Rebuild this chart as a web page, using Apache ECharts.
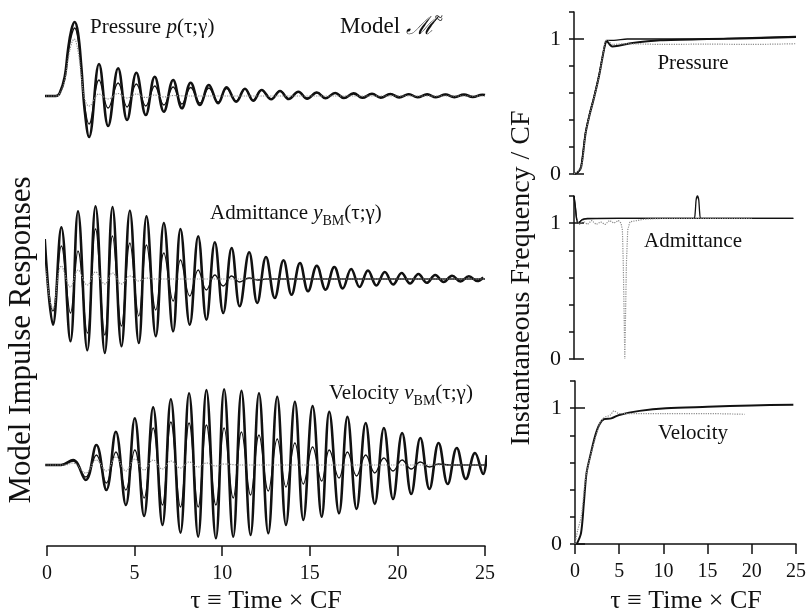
<!DOCTYPE html>
<html><head><meta charset="utf-8">
<script src="https://cdn.jsdelivr.net/npm/echarts@6/dist/echarts.min.js"></script>
<style>html,body{margin:0;padding:0;background:#fff}#c{width:809px;height:615px}</style>
</head><body><div id="c"></div>
<script>
// ---- tick labels ----
const tauTicks = [0, 5, 10, 15, 20, 25];
const ifTickLabels = [0, 1];

// ---- left panel: impulse responses, [tau, amplitude] (extrema) ----
const pressureThick = [[-0.2,0],[0.5,0],[0.72,2.7],[1.01,19],[1.2,46],[1.39,66],[1.58,74],[1.77,63],[1.96,29],[2.15,-14],[2.4,-41],
 [2.97,32],[3.49,-30],[4.06,27.7],[4.57,-24],[5.1,23.3],[5.64,-19],[6.15,19.3],[6.67,-15.7],[7.2,16],[7.7,-12.3],[8.2,13.3],[8.73,-9],
 [9.24,11],[9.77,-7.3],[10.25,8.7],[10.8,-5.7],[11.3,7.3],[11.77,-4.7],[12.25,6],[12.8,-3.3],[13.3,5],[13.8,-3],[14.35,4.2],[14.85,-2.6],
 [15.4,3.5],[15.9,-2.2],[16.45,3],[16.95,-2],[17.5,2.6],[18,-1.8],[18.55,2.2],[19.05,-1.6],[19.6,2],[20.1,-1.4],[20.65,1.8],[21.15,-1.3],
 [21.7,1.6],[22.2,-1.2],[22.75,1.5],[23.25,-1.1],[23.8,1.4],[24.3,-1],[24.85,1.3],[25,1]];
const pressureMid = [[-0.2,0],[0.5,0],[0.72,2.5],[1.01,17],[1.2,42],[1.39,60],[1.58,68],[1.77,57],[1.96,26],[2.15,-10],[2.4,-28],
 [2.97,16],[3.49,-12],[4.06,13],[4.57,-11],[5.1,12],[5.64,-10],[6.15,10],[6.67,-9],[7.2,9],[7.7,-8],[8.2,8.5],[8.73,-7],[9.24,8],
 [9.77,-6],[10.25,7.5],[10.8,-5],[11.3,7],[11.77,-4.5],[12.25,6],[12.8,-3.3],[13.3,5],[13.8,-3],[14.35,4.2],[14.85,-2.6],[15.4,3.5],
 [15.9,-2.2],[16.45,3],[16.95,-2],[17.5,2.6],[18,-1.8],[18.55,2.2],[19.05,-1.6],[19.6,2],[20.1,-1.4],[20.65,1.8],[21.15,-1.3],[21.7,1.6],
 [22.2,-1.2],[22.75,1.5],[23.25,-1.1],[23.8,1.4],[24.3,-1],[24.85,1.3],[25,1]];
const pressureGray = [[-0.2,0],[0.5,0],[0.72,2],[1.01,15],[1.2,36],[1.39,52],[1.55,57],[1.77,45],[1.96,20],[2.15,-3],[2.4,-10],
 [2.97,2],[3.49,-3],[4.06,2.5],[4.57,-2],[5.1,2],[5.64,-1.5],[6.15,1],[6.67,-1],[7.2,0.5],[8,0],[25,0]];

const admitThick = [[-0.13,40],[0.34,-45.7],[0.82,51.7],[1.34,-62.3],[1.77,67.7],[2.3,-71.3],[2.77,72.7],[3.3,-74],[3.74,72],
 [4.25,-67.3],[4.73,68.3],[5.24,-64],[5.68,62.7],[6.21,-57.3],[6.67,56],[7.2,-52.3],[7.62,50],[8.15,-45.7],[8.63,42.7],[9.1,-40.7],
 [9.58,36.7],[10.06,-34],[10.54,31],[11.0,-27.3],[11.54,26.7],[12.0,-24],[12.5,22],[13.0,-19],[13.5,18.7],[13.96,-15.7],[14.44,16],
 [14.9,-12.3],[15.4,13.3],[15.9,-10.7],[16.4,12],[16.88,-9.5],[17.36,10],[17.84,-8],[18.32,8.5],[18.8,-6.5],[19.28,7],[19.76,-5.5],
 [20.24,6],[20.72,-4.5],[21.2,5],[21.68,-3.8],[22.16,4],[22.64,-3],[23.12,3.3],[23.6,-2.5],[24.08,2.7],[24.56,-2],[24.9,1.5]];
const admitMid = [[-0.13,25],[0.34,-32],[0.82,33],[1.34,-34],[1.77,28],[2.3,-54],[2.77,50],[3.3,-56],[3.74,43],[4.25,-47],
 [4.73,36],[5.24,-37],[5.68,34],[6.21,-31],[6.67,26],[7.2,-22],[7.62,19],[8.15,-17],[8.63,9],[9.1,-11],[9.58,4],[10.06,-7],
 [10.54,3],[11.0,-3],[11.54,1],[12,-1],[12.5,0],[25,0]];
const admitGray = [[-0.13,20],[0.34,-30],[0.82,13],[1.34,-8],[1.77,9],[2.3,-6],[2.77,7],[3.3,-5],[3.74,6],[4.25,-5],[4.73,3],
 [5.24,-2],[5.68,1],[6.2,0],[25,0]];

const velThick = [[-0.1,0],[0.8,0],[1.49,5],[2.21,-15],[2.82,20],[3.39,-25],[3.93,33.3],[4.5,-40],[5.01,46.7],[5.54,-51],
 [6.06,57.7],[6.59,-60],[7.07,65.7],[7.62,-67.7],[8.11,71.7],[8.63,-71.7],[9.1,75],[9.64,-73.3],[10.11,75.7],[10.63,-71.7],
 [11.1,74.3],[11.62,-70],[12.1,71.7],[12.63,-68.3],[13.14,68.3],[13.64,-60],[14.15,63.3],[14.63,-55],[15.16,59],[15.68,-51.7],
 [16.11,53.3],[16.67,-48.3],[17.15,48.3],[17.67,-44],[18.19,42],[18.71,-39],[19.23,37],[19.75,-34],[20.27,32],[20.79,-29],
 [21.31,27],[21.83,-24],[22.35,22],[22.87,-19],[23.39,17],[23.91,-14],[24.43,12],[24.9,-9],[25.1,10]];
const velMid = [[-0.1,0],[0.8,0],[1.49,4],[2.21,-12],[2.82,10],[3.39,-18],[3.93,13],[4.5,-25],[5.01,15],[5.54,-33],[6.06,37],
 [6.59,-40],[7.07,43],[7.62,-42],[8.11,42],[8.63,-42],[9.1,40],[9.64,-40],[10.11,37],[10.63,-33],[11.1,33],[11.62,-30],[12.1,30],
 [12.63,-26],[13.14,26],[13.64,-22],[14.15,22],[14.63,-19],[15.16,18],[15.68,-16],[16.11,15],[16.67,-13],[17.15,13],[17.67,-11],
 [18.19,10],[18.71,-8],[19.23,7],[19.75,-6],[20.27,5],[20.79,-4],[21.31,3],[21.83,-2],[22.35,1],[23,0],[25,0]];
const velGray = [[-0.1,0],[1,0],[1.49,2],[2.21,-8],[2.82,5],[3.39,-6],[3.93,8],[4.5,-6],[5.01,6],[5.54,-5],[6.06,5],[6.59,-4],
 [7.07,4],[7.62,-3],[8.11,3],[8.63,-2],[9.1,2],[9.64,-1],[10.11,1],[11,0],[25,0]];

// ---- right panels: instantaneous frequency / CF ----
const presIFThick = [[0,0],[0.4,0.01],[0.8,0.05],[1.3,0.3],[1.8,0.45],[2.2,0.55],[2.8,0.72],[3.2,0.86],[3.5,0.96],[3.7,0.985],
 [4.0,0.96],[4.3,0.945],[5,0.95],[6.6,0.97],[9.7,0.99],[15,1.0],[20,1.005],[25,1.015]];
const presIFMid = [[0,0],[0.4,0.01],[0.8,0.06],[1.3,0.31],[1.8,0.46],[2.2,0.56],[2.8,0.73],[3.2,0.87],[3.5,0.96],[3.7,0.99],
 [4.5,0.99],[6,1.0],[10,1.0],[15,1.0],[20,1.01],[25,1.02]];
const presIFGray = [[0,0],[0.8,0.05],[1.3,0.3],[1.8,0.45],[2.2,0.55],[2.8,0.72],[3.3,0.9],[3.6,0.99],[3.9,0.985],[4.3,0.96],
 [6,0.965],[10,0.96],[15,0.962],[20,0.96],[25,0.965]];

const admIFThick = [[0,1.2],[0.15,1.12],[0.3,1.03],[0.5,1.0],[0.8,1.02],[1.5,1.035],[5,1.035],[10,1.035],[15,1.035],[20,1.035],[24.7,1.035]];
const admIFMid = [[0,1.2],[0.15,1.12],[0.3,1.03],[0.5,1.0],[1,1.03],[5,1.035],[13.5,1.035],[13.65,1.08],[13.75,1.17],[13.9,1.2],
 [14.05,1.17],[14.15,1.08],[14.3,1.035],[24.7,1.035]];
const admIFGray = [[0.3,1.02],[0.6,0.99],[1.0,1.02],[1.5,0.99],[2.0,1.02],[2.5,0.99],[3.0,1.01],[3.5,0.99],[4.0,1.02],[4.5,1.0],
 [5.0,1.02],[5.3,1.0],[5.45,0.95],[5.55,0.7],[5.65,0.3],[5.72,0.0],[5.8,0.3],[5.9,0.7],[6.05,0.95],[6.3,1.01],[8,1.03],[10,1.035],[20,1.035]];

const velIFThick = [[0.2,0],[0.68,0.08],[1.0,0.3],[1.3,0.52],[1.8,0.67],[2.3,0.8],[2.76,0.88],[3.3,0.92],[4.1,0.925],[5,0.95],
 [7.3,0.98],[10.3,1.0],[15,1.01],[20,1.02],[24.7,1.025]];
const velIFGray = [[0,0],[0.3,0.1],[0.7,0.2],[1.3,0.52],[2.76,0.88],[3.3,0.93],[4.0,0.95],[4.4,0.98],[5,0.96],[10,0.96],[15,0.96],[19.2,0.955]];

// ---- chart ----
const F = 'Liberation Serif';
const BLACK = '#111';
const GRAY = '#8c8c8c';
const chart = echarts.init(document.getElementById('c'), null, {renderer: 'canvas'});

const grids = [
  {left: 47, width: 438, top: 16, height: 160},   // 0 pressure (left)
  {left: 47, width: 438, top: 199, height: 160},  // 1 admittance (left)
  {left: 47, width: 438, top: 385, height: 161},  // 2 velocity (left)
  {left: 574, width: 222, top: 12, height: 162},  // 3 pressure IF
  {left: 574, width: 222, top: 196, height: 163}, // 4 admittance IF
  {left: 575, width: 221, top: 381, height: 163}  // 5 velocity IF
];

const xAxes = [];
const yAxes = [];
for (let i = 0; i < 6; i++) {
  const shown = (i === 2 || i === 5);
  xAxes.push({
    type: 'value', gridIndex: i, min: 0, max: 25, interval: 5, show: shown,
    axisLine: {show: true, onZero: false, lineStyle: {color: BLACK, width: 1.5}},
    axisTick: {show: true, length: 10, lineStyle: {color: BLACK, width: 1.5}},
    axisLabel: {show: true, fontFamily: F, fontSize: 20, color: BLACK, margin: 18,
      customValues: tauTicks},
    splitLine: {show: false}
  });
  if (i < 3) {
    yAxes.push({type: 'value', gridIndex: i, min: i === 2 ? -81 : -80, max: 80, show: false});
  } else {
    yAxes.push({
      type: 'value', gridIndex: i, min: 0, max: 1.2, interval: 0.2,
      axisLine: {show: true, onZero: false, lineStyle: {color: BLACK, width: 1.5}},
      axisTick: {show: true, length: 5, lineStyle: {color: BLACK, width: 1.5}},
      axisLabel: {show: true, fontFamily: F, fontSize: 22, color: BLACK, margin: 13, customValues: ifTickLabels},
      splitLine: {show: false}
    });
  }
}
// longer ticks at 0 and 1 on the frequency axes
for (let i = 3; i < 6; i++) {
  yAxes.push({
    type: 'value', gridIndex: i, min: 0, max: 1.2,
    axisLine: {show: false},
    axisTick: {show: true, length: 10, customValues: ifTickLabels, lineStyle: {color: BLACK, width: 1.5}},
    axisLabel: {show: false}, splitLine: {show: false}
  });
}

function line(data, gi, kind, smooth) {
  const st = kind === 'thick' ? {color: BLACK, width: 2.6, type: 'solid'}
           : kind === 'mid' ? {color: BLACK, width: 1.3, type: 'solid'}
           : {color: GRAY, width: 1.2, type: 'dotted'};
  return {
    type: 'line', xAxisIndex: gi, yAxisIndex: gi, data: data, showSymbol: false, symbol: 'none',
    smooth: smooth, lineStyle: st, clip: false, silent: true, z: kind === 'gray' ? 4 : (kind === 'mid' ? 3 : 2)
  };
}

const series = [
  line(pressureThick, 0, 'thick', 0.4), line(pressureMid, 0, 'mid', 0.4), line(pressureGray, 0, 'gray', 0.4),
  line(admitThick, 1, 'thick', 0.4), line(admitMid, 1, 'mid', 0.4), line(admitGray, 1, 'gray', 0.4),
  line(velThick, 2, 'thick', 0.4), line(velMid, 2, 'mid', 0.4), line(velGray, 2, 'gray', 0.4),
  line(presIFThick, 3, 'mid', 0.3), line(presIFMid, 3, 'mid', 0.3), line(presIFGray, 3, 'gray', 0.3),
  line(admIFThick, 4, 'mid', 0.2), line(admIFMid, 4, 'mid', 0.2), line(admIFGray, 4, 'gray', 0),
  line(velIFThick, 5, 'thick', 0.3), line(velIFGray, 5, 'gray', 0.3)
];
series[9].lineStyle.width = 2;
series[15].lineStyle.width = 2;

function txt(x, y, text, size, extra) {
  return {
    type: 'text', x: x, y: y, silent: true,
    style: Object.assign({text: text, fill: BLACK, fontFamily: F, fontSize: size,
      align: 'left', verticalAlign: 'middle', textAlign: 'left', textVerticalAlign: 'middle'}, extra || {})
  };
}
const richBase = {
  n: {fontFamily: F, fontSize: 21, color: BLACK, lineHeight: 30},
  i: {fontFamily: F, fontSize: 21, fontStyle: 'italic', color: BLACK, lineHeight: 30},
  s: {fontFamily: F, fontSize: 14, color: BLACK, lineHeight: 14, verticalAlign: 'bottom'}
};

const graphics = [
  txt(90, 27, '{n|Pressure }{i|p}{n|(τ;γ)}', 21, {rich: richBase}),
  txt(340, 27, '{n|Model }{m|ℳ}{u|≈}', 23, {rich: {
    n: {fontFamily: F, fontSize: 23, color: BLACK, lineHeight: 30},
    m: {fontFamily: F, fontSize: 25, fontStyle: 'italic', color: BLACK, lineHeight: 30},
    u: {fontFamily: F, fontSize: 15, color: BLACK, lineHeight: 15, verticalAlign: 'top'}}}),
  txt(210, 213, '{n|Admittance }{i|y}{s|BM}{n|(τ;γ)}', 21, {rich: richBase}),
  txt(329, 393, '{n|Velocity }{i|v}{s|BM}{n|(τ;γ)}', 21, {rich: richBase}),
  txt(693, 63, 'Pressure', 21, {align: 'center', textAlign: 'center'}),
  txt(693, 241, 'Admittance', 21, {align: 'center', textAlign: 'center'}),
  txt(693, 433, 'Velocity', 21, {align: 'center', textAlign: 'center'}),
  txt(266, 601, 'τ ≡ Time × CF', 26, {align: 'center', textAlign: 'center'}),
  txt(686, 601, 'τ ≡ Time × CF', 26, {align: 'center', textAlign: 'center'}),
  Object.assign(txt(22, 340, 'Model Impulse Responses', 31, {align: 'center', textAlign: 'center'}), {rotation: Math.PI / 2}),
  Object.assign(txt(522, 278, 'Instantaneous Frequency / CF', 28, {align: 'center', textAlign: 'center'}), {rotation: Math.PI / 2})
];

chart.setOption({
  animation: false,
  backgroundColor: '#fff',
  grid: grids,
  xAxis: xAxes,
  yAxis: yAxes,
  series: series,
  graphic: graphics
});
</script>
</body></html>
